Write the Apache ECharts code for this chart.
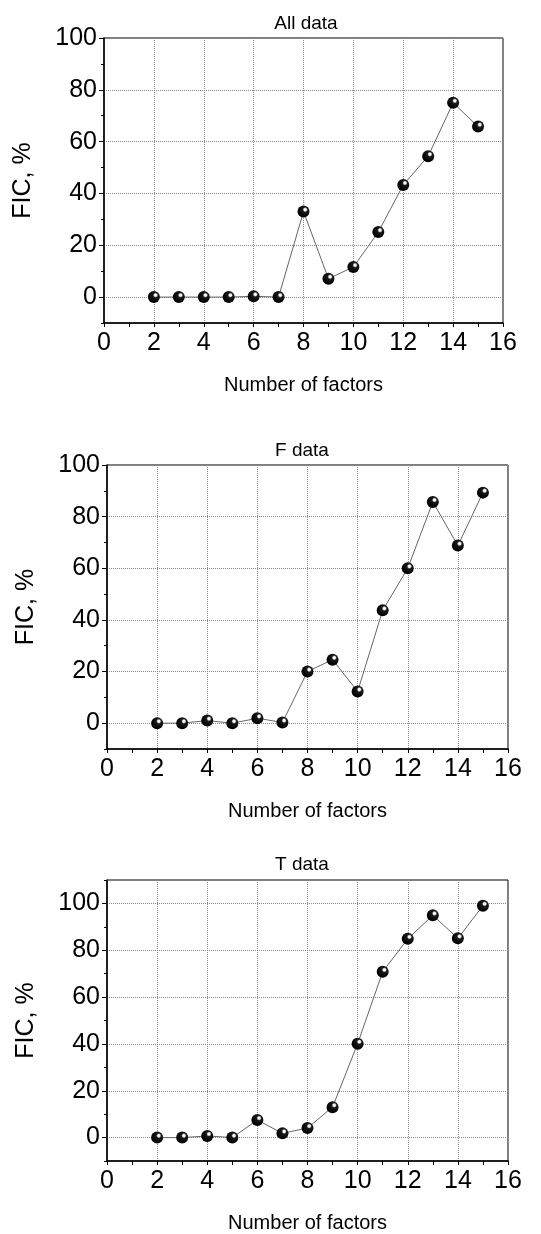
<!DOCTYPE html>
<html>
<head>
<meta charset="utf-8">
<script src="https://cdn.jsdelivr.net/npm/echarts@6/dist/echarts.min.js"></script>
<style>
html,body{margin:0;padding:0;background:#fff;}
#chart{width:541px;height:1234px;}
</style>
</head>
<body>
<div id="chart"></div>
<script>
// ---- data ----
var factors = [2, 3, 4, 5, 6, 7, 8, 9, 10, 11, 12, 13, 14, 15];
var allData = [0, 0, 0, 0, 0.3, 0, 33.0, 7.1, 11.6, 25.1, 43.3, 54.4, 75.0, 65.8];
var fData   = [0, 0, 1.0, 0, 1.9, 0.3, 20.0, 24.6, 12.3, 43.7, 60.0, 85.7, 68.8, 89.3];
var tData   = [0, 0, 0.7, 0, 7.5, 1.8, 4.1, 13.0, 40.1, 70.8, 84.9, 94.9, 85.1, 99.0];
var panelTitles = ['All data', 'F data', 'T data'];
var yMaxes = [100, 100, 110];
var yTickLabels = [0, 20, 40, 60, 80, 100];
var xAxisName = 'Number of factors';
var yAxisName = 'FIC, %';

// ---- layout ----
var grids = [
  {left: 104, right: 38, top: 38, height: 285},
  {left: 107, right: 33, top: 465, height: 284},
  {left: 107, right: 33, top: 880, height: 283}
];
var titlePos = [{x: 301, y: 9}, {x: 297, y: 436}, {x: 297, y: 850}];

var FONT = '"Liberation Sans", Arial, sans-serif';
var sphere = {
  type: 'radial', x: 0.64, y: 0.34, r: 0.62,
  colorStops: [
    {offset: 0, color: '#ffffff'},
    {offset: 0.16, color: '#f4f4f4'},
    {offset: 0.34, color: '#1a1a1a'},
    {offset: 1, color: '#000000'}
  ]
};

function pairs(ys) {
  return factors.map(function (x, i) { return [x, ys[i]]; });
}
var seriesData = [allData, fData, tData];

var option = {
  backgroundColor: '#ffffff',
  animation: false,
  title: [], grid: [], xAxis: [], yAxis: [], series: []
};

for (var p = 0; p < 3; p++) {
  option.title.push({
    text: panelTitles[p], left: titlePos[p].x, top: titlePos[p].y, textAlign: 'center',
    textStyle: {fontFamily: FONT, fontSize: 19, fontWeight: 'normal', color: '#000'}
  });
  option.grid.push({
    left: grids[p].left, right: grids[p].right, top: grids[p].top, height: grids[p].height,
    show: true, borderColor: '#000', borderWidth: 1, backgroundColor: 'transparent', containLabel: false
  });
  option.xAxis.push({
    type: 'value', gridIndex: p, min: 0, max: 16, interval: 2,
    name: xAxisName, nameLocation: 'middle', nameGap: 52,
    nameTextStyle: {fontFamily: FONT, fontSize: 20, color: '#000'},
    axisLine: {show: true, onZero: false, lineStyle: {color: '#000', width: 1.5}},
    axisTick: {show: true, inside: false, length: 4, lineStyle: {color: '#000', width: 1}},
    minorTick: {show: true, splitNumber: 2, length: 4, lineStyle: {color: '#000', width: 1}},
    axisLabel: {fontFamily: FONT, fontSize: 25, color: '#000', margin: 8},
    splitLine: {show: true, lineStyle: {color: '#8a8a8a', type: 'dotted', width: 1}}
  });
  option.yAxis.push({
    type: 'value', gridIndex: p, min: -10, max: yMaxes[p], position: 'left',
    name: yAxisName, nameLocation: 'middle', nameGap: 68,
    nameTextStyle: {fontFamily: FONT, fontSize: 25, color: '#000'},
    axisLine: {show: true, onZero: false, lineStyle: {color: '#000', width: 1.5}},
    axisTick: {show: true, inside: false, length: 5, customValues: yTickLabels, lineStyle: {color: '#000', width: 1}},
    axisLabel: {fontFamily: FONT, fontSize: 25, color: '#000', margin: 7, customValues: yTickLabels},
    splitLine: {show: true, lineStyle: {color: '#8a8a8a', type: 'dotted', width: 1}}
  });
  option.yAxis.push({
    type: 'value', gridIndex: p, min: -10, max: yMaxes[p], interval: 10, position: 'left',
    axisLine: {show: false},
    axisTick: {show: true, inside: false, length: 3, lineStyle: {color: '#000', width: 1}},
    axisLabel: {show: false},
    splitLine: {show: false}
  });
  option.series.push({
    type: 'line', xAxisIndex: p, yAxisIndex: p * 2,
    data: pairs(seriesData[p]),
    symbol: 'circle', symbolSize: 12,
    itemStyle: {color: sphere, borderWidth: 0},
    lineStyle: {color: '#666', width: 1},
    z: 5
  });
}

var chart = echarts.init(document.getElementById('chart'), null, {renderer: 'canvas'});
chart.setOption(option);
</script>
</body>
</html>
